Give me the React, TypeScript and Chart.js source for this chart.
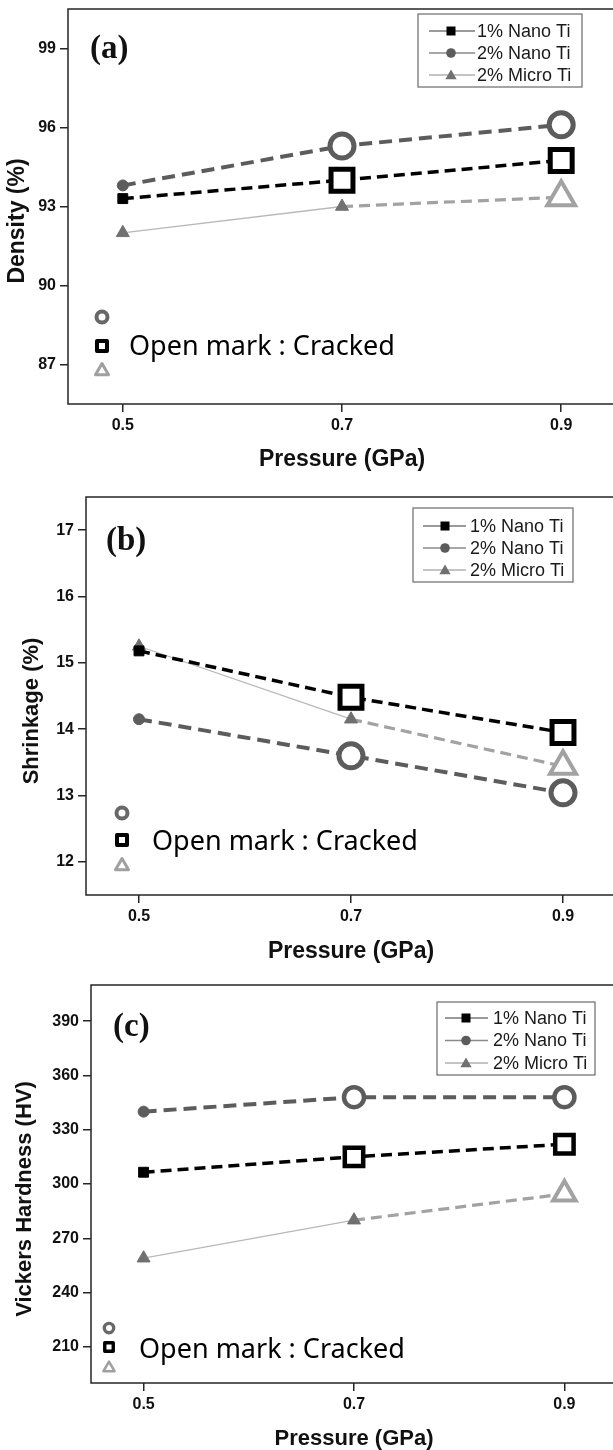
import React, { useEffect, useRef } from 'react';
import { Chart, registerables } from 'chart.js';

Chart.register(...registerables);

// ---------- data ----------
const pressureGPa = [0.5, 0.7, 0.9];
const xTickValues = [0.5, 0.7, 0.9];
const seriesLabels = ['1% Nano Ti', '2% Nano Ti', '2% Micro Ti'];
// open (cracked) markers
const crackedNano = [false, true, true];
const crackedMicro = [false, false, true];

const densityNano1 = [93.3, 94.0, 94.75];
const densityNano2 = [93.8, 95.3, 96.1];
const densityMicro2 = [92.0, 93.0, 93.35];
const densityTicks = [87, 90, 93, 96, 99];

const shrinkNano1 = [15.18, 14.48, 13.95];
const shrinkNano2 = [14.15, 13.6, 13.04];
const shrinkMicro2 = [15.25, 14.15, 13.44];
const shrinkTicks = [12, 13, 14, 15, 16, 17];

const hardNano1 = [306.5, 315, 322];
const hardNano2 = [340, 348, 348];
const hardMicro2 = [259, 280, 294.5];
const hardTicks = [210, 240, 270, 300, 330, 360, 390];

// ---------- styles ----------
const SANS = '"Liberation Sans", Arial, Helvetica, sans-serif';
const SERIF = '"Liberation Serif", "Times New Roman", serif';
const NOTE = '"Noto Sans", "Open Sans", sans-serif';
const C = {
  nano1: '#000000',
  nano2: '#5c5c5c',
  microFill: '#707070',
  microThin: '#b8b8b8',
  microDash: '#a2a2a2',
  axis: '#262626',
  text: '#111111',
};
const CANVAS_W = 630;

type Panel = {
  key: string;
  top: number;
  height: number;
  yMin: number;
  yMax: number;
  yTicks: number[];
  nano1: number[];
  nano2: number[];
  micro2: number[];
  yAxisW: number;
  padTop: number;
  padRight: number;
  xAxisH: number;
  xTitlePad: number;
  xTitleSize: number;
  label: string;
  labelDx: number;
  labelDy: number;
  yTitle: string;
  yTitleX: number;
  yTitleY: number;
  yTitleSize: number;
  legend: { dx: number; dy: number; w: number; h: number; row0: number; gap: number; l0: number; l1: number; mk: number; tx: number };
  open: { iconDx: number; textDx: number; textDy: number; dys: number[]; s: number };
  big: { circle: number; rect: number; tri: number; bw: number; tbw: number };
};

const panels: Panel[] = [
  {
    key: 'a', top: 0, height: 485, yMin: 85.5, yMax: 100.5, yTicks: densityTicks,
    nano1: densityNano1, nano2: densityNano2, micro2: densityMicro2,
    yAxisW: 68, padTop: 9, padRight: CANVAS_W - 616, xAxisH: 81, xTitlePad: 13.5, xTitleSize: 23,
    label: '(a)', labelDx: 22, labelDy: 40,
    yTitle: 'Density (%)', yTitleX: 18, yTitleY: 221, yTitleSize: 23,
    legend: { dx: 350, dy: 5, w: 164, h: 73, row0: 17, gap: 22, l0: 11, l1: 57, mk: 33, tx: 59 },
    open: { iconDx: 34, textDx: 61, textDy: 338, dys: [-30, -1, 23], s: 1 },
    big: { circle: 12, rect: 15.5, tri: 16, bw: 5, tbw: 4 },
  },
  {
    key: 'b', top: 485, height: 485, yMin: 11.5, yMax: 17.5, yTicks: shrinkTicks,
    nano1: shrinkNano1, nano2: shrinkNano2, micro2: shrinkMicro2,
    yAxisW: 86, padTop: 12, padRight: CANVAS_W - 616, xAxisH: 75, xTitlePad: 6.5, xTitleSize: 23,
    label: '(b)', labelDx: 20, labelDy: 44,
    yTitle: 'Shrinkage (%)', yTitleX: 32, yTitleY: 226, yTitleSize: 22,
    legend: { dx: 327, dy: 11, w: 160, h: 74, row0: 18, gap: 22, l0: 10, l1: 53, mk: 32, tx: 57 },
    open: { iconDx: 36, textDx: 66, textDy: 345, dys: [-29, -2, 23], s: 1 },
    big: { circle: 12, rect: 15.5, tri: 15, bw: 5, tbw: 4 },
  },
  {
    key: 'c', top: 970, height: 480, yMin: 190, yMax: 410, yTicks: hardTicks,
    nano1: hardNano1, nano2: hardNano2, micro2: hardMicro2,
    yAxisW: 91, padTop: 15, padRight: CANVAS_W - 617, xAxisH: 67, xTitlePad: 0.5, xTitleSize: 22,
    label: '(c)', labelDx: 22, labelDy: 42,
    yTitle: 'Vickers Hardness (HV)', yTitleX: 25, yTitleY: 229, yTitleSize: 22,
    legend: { dx: 346, dy: 17, w: 158, h: 73, row0: 16, gap: 22.5, l0: 8, l1: 51, mk: 29, tx: 56 },
    open: { iconDx: 18, textDx: 48, textDy: 365, dys: [-22, -3, 17], s: 0.85 },
    big: { circle: 10, rect: 13, tri: 13, bw: 4.5, tbw: 4 },
  },
];

// ---------- drawing helpers ----------
function drawTri(ctx: CanvasRenderingContext2D, x: number, y: number, r: number) {
  ctx.beginPath();
  for (let k = 0; k < 3; k++) {
    const a = -Math.PI / 2 + (k * 2 * Math.PI) / 3;
    const px = x + Math.cos(a) * r;
    const py = y + Math.sin(a) * r;
    if (k === 0) ctx.moveTo(px, py);
    else ctx.lineTo(px, py);
  }
  ctx.closePath();
}

function decorPlugin(p: Panel) {
  return {
    id: 'decor_' + p.key,
    afterDraw(chart: any) {
      const { ctx, chartArea: ca } = chart;
      ctx.save();
      // frame
      ctx.strokeStyle = C.axis;
      ctx.lineWidth = 1.5;
      ctx.setLineDash([]);
      ctx.strokeRect(ca.left, ca.top, ca.right - ca.left, ca.bottom - ca.top);

      // panel label
      ctx.fillStyle = C.text;
      ctx.font = `bold 33px ${SERIF}`;
      ctx.textAlign = 'left';
      ctx.textBaseline = 'middle';
      ctx.fillText(p.label, ca.left + p.labelDx, ca.top + p.labelDy);

      // legend box
      const L = p.legend;
      const bx = ca.left + L.dx;
      const by = ca.top + L.dy;
      ctx.fillStyle = '#ffffff';
      ctx.fillRect(bx, by, L.w, L.h);
      ctx.strokeStyle = '#6a6a6a';
      ctx.lineWidth = 1.2;
      ctx.strokeRect(bx, by, L.w, L.h);
      const mkColors = [C.nano1, C.nano2, C.microFill];
      const lnColors = ['#7a7a7a', '#8a8a8a', '#b0b0b0'];
      seriesLabels.forEach((lab, i) => {
        const ry = by + L.row0 + i * L.gap;
        ctx.strokeStyle = lnColors[i];
        ctx.lineWidth = 1.3;
        ctx.beginPath();
        ctx.moveTo(bx + L.l0, ry);
        ctx.lineTo(bx + L.l1, ry);
        ctx.stroke();
        const mx = bx + L.mk;
        ctx.fillStyle = mkColors[i];
        if (i === 0) ctx.fillRect(mx - 4.5, ry - 4.5, 9, 9);
        else if (i === 1) {
          ctx.beginPath();
          ctx.arc(mx, ry, 4.8, 0, Math.PI * 2);
          ctx.fill();
        } else {
          drawTri(ctx, mx, ry + 1, 6.5);
          ctx.fill();
        }
        ctx.fillStyle = '#1a1a1a';
        ctx.font = `18px ${SANS}`;
        ctx.textAlign = 'left';
        ctx.textBaseline = 'middle';
        ctx.fillText(lab, bx + L.tx, ry + 1);
      });

      // open-mark note
      const O = p.open;
      const ix = ca.left + O.iconDx;
      const ty = ca.top + O.textDy;
      const s = O.s;
      ctx.lineWidth = 4 * s;
      ctx.strokeStyle = '#686868';
      ctx.beginPath();
      ctx.arc(ix, ty + O.dys[0], 5.5 * s, 0, Math.PI * 2);
      ctx.stroke();
      ctx.strokeStyle = '#000000';
      ctx.lineJoin = 'round';
      ctx.strokeRect(ix - 5 * s, ty + O.dys[1] - 5 * s, 10 * s, 10 * s);
      ctx.strokeStyle = '#a0a0a0';
      ctx.lineWidth = 3 * s;
      drawTri(ctx, ix, ty + O.dys[2] + 1, 7.5 * s);
      ctx.stroke();
      ctx.fillStyle = '#000000';
      ctx.font = `27px ${NOTE}`;
      ctx.textAlign = 'left';
      ctx.textBaseline = 'middle';
      ctx.fillText('Open mark : Cracked', ca.left + O.textDx, ty);

      // y-axis title
      ctx.translate(p.yTitleX, p.yTitleY);
      ctx.rotate(-Math.PI / 2);
      ctx.fillStyle = C.text;
      ctx.font = `bold ${p.yTitleSize}px ${SANS}`;
      ctx.textAlign = 'center';
      ctx.textBaseline = 'middle';
      ctx.fillText(p.yTitle, 0, 0);
      ctx.restore();
    },
  };
}

function buildConfig(p: Panel): any {
  const pts = (vals: number[]) => vals.map((y, i) => ({ x: pressureGPa[i], y }));
  const b = p.big;
  const datasets = [
    {
      label: seriesLabels[0],
      data: pts(p.nano1),
      borderColor: C.nano1,
      borderWidth: 3.5,
      borderDash: [11, 6],
      pointStyle: 'rect',
      pointRadius: crackedNano.map((c) => (c ? b.rect : 7)),
      pointBackgroundColor: crackedNano.map((c) => (c ? '#ffffff' : C.nano1)),
      pointBorderColor: C.nano1,
      pointBorderWidth: crackedNano.map((c) => (c ? b.bw : 1)),
      tension: 0,
      fill: false,
    },
    {
      label: seriesLabels[1],
      data: pts(p.nano2),
      borderColor: C.nano2,
      borderWidth: 4,
      borderDash: [13, 7],
      pointStyle: 'circle',
      pointRadius: crackedNano.map((c) => (c ? b.circle : 5.5)),
      pointBackgroundColor: crackedNano.map((c) => (c ? '#ffffff' : C.nano2)),
      pointBorderColor: C.nano2,
      pointBorderWidth: crackedNano.map((c) => (c ? b.bw : 1)),
      tension: 0,
      fill: false,
    },
    {
      label: seriesLabels[2],
      data: pts(p.micro2),
      borderColor: C.microThin,
      borderWidth: 1.3,
      segment: {
        borderDash: (ctx: any) => (crackedMicro[ctx.p1DataIndex] ? [11, 6] : []),
        borderWidth: (ctx: any) => (crackedMicro[ctx.p1DataIndex] ? 3.2 : 1.3),
        borderColor: (ctx: any) => (crackedMicro[ctx.p1DataIndex] ? C.microDash : C.microThin),
      },
      pointStyle: 'triangle',
      pointRadius: crackedMicro.map((c) => (c ? b.tri : 7.5)),
      pointBackgroundColor: crackedMicro.map((c) => (c ? '#ffffff' : C.microFill)),
      pointBorderColor: crackedMicro.map((c) => (c ? C.microDash : C.microFill)),
      pointBorderWidth: crackedMicro.map((c) => (c ? b.tbw : 1)),
      tension: 0,
      fill: false,
    },
  ];

  const tickFont = { family: SANS, weight: 'bold' as const, size: 16 };
  const grid = { drawOnChartArea: false, drawTicks: true, tickLength: 8, color: C.axis, lineWidth: 1.5 };

  return {
    type: 'line',
    data: { datasets },
    options: {
      animation: false,
      responsive: false,
      devicePixelRatio: 1,
      events: [],
      layout: { autoPadding: false, padding: { left: 0, right: p.padRight, top: p.padTop, bottom: 0 } },
      plugins: { legend: { display: false }, tooltip: { enabled: false } },
      scales: {
        x: {
          type: 'linear',
          min: 0.45,
          max: 0.95,
          afterBuildTicks: (s: any) => {
            s.ticks = xTickValues.map((v) => ({ value: v }));
          },
          afterFit: (s: any) => {
            s.height = p.xAxisH;
            s.paddingLeft = 0;
            s.paddingRight = 0;
          },
          ticks: {
            font: tickFont,
            color: C.text,
            padding: 4,
            maxRotation: 0,
            autoSkip: false,
            callback: (v: any) => Number(v).toFixed(1),
          },
          grid,
          border: { display: false },
          title: {
            display: true,
            text: 'Pressure (GPa)',
            color: C.text,
            font: { family: SANS, weight: 'bold', size: p.xTitleSize, lineHeight: 1 },
            padding: { top: 0, bottom: p.xTitlePad },
          },
        },
        y: {
          type: 'linear',
          min: p.yMin,
          max: p.yMax,
          afterBuildTicks: (s: any) => {
            s.ticks = p.yTicks.map((v) => ({ value: v }));
          },
          afterFit: (s: any) => {
            s.width = p.yAxisW;
            s.paddingTop = 0;
            s.paddingBottom = 0;
          },
          ticks: { font: tickFont, color: C.text, padding: 4, autoSkip: false },
          grid,
          border: { display: false },
          title: { display: false },
        },
      },
    },
    plugins: [decorPlugin(p)],
  };
}

function PanelChart({ p }: { p: Panel }) {
  const ref = useRef<HTMLCanvasElement>(null);
  useEffect(() => {
    if (!ref.current) return;
    const chart = new Chart(ref.current, buildConfig(p));
    return () => chart.destroy();
  }, [p]);
  return (
    <canvas
      ref={ref}
      width={CANVAS_W}
      height={p.height}
      style={{ position: 'absolute', left: 0, top: p.top, display: 'block' }}
    />
  );
}

export default function App() {
  return (
    <div
      style={{
        position: 'absolute',
        left: 0,
        top: 0,
        width: 613,
        height: 1450,
        overflow: 'hidden',
        background: '#ffffff',
      }}
    >
      {panels.map((p) => (
        <PanelChart key={p.key} p={p} />
      ))}
    </div>
  );
}
